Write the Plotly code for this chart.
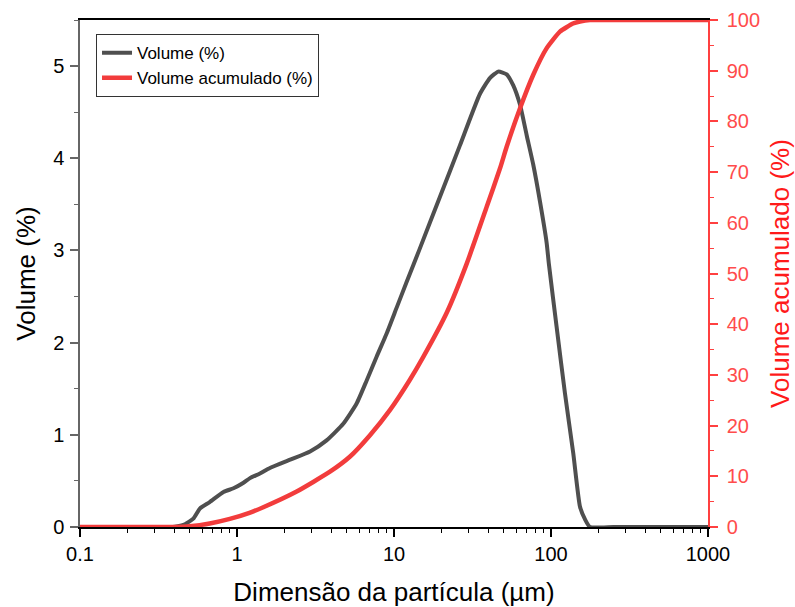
import plotly.graph_objects as go

# Volume (%) distribution
vol_x = [0.1, 0.39, 0.42, 0.466, 0.527, 0.58, 0.67, 0.82, 0.95, 1.1, 1.21, 1.4, 1.62,
         2.18, 2.92, 3.72, 4.75, 5.78, 6.70, 7.76, 8.98, 10.4, 12.05, 14.6, 19.6,
         26.3, 35.3, 40.8, 46.1, 52.2, 57.5, 63.5, 70.0, 77.1, 85.1, 93.7, 97.0,
         108.6, 122.7, 138.6, 153.0, 165.0, 177.0, 250.0, 400.0, 1000.0]
vol_y = [0, 0, 0.01, 0.03, 0.09, 0.20, 0.27, 0.38, 0.42, 0.48, 0.53, 0.58, 0.64,
         0.73, 0.82, 0.94, 1.12, 1.34, 1.59, 1.85, 2.10, 2.38, 2.66, 3.02, 3.58,
         4.14, 4.70, 4.87, 4.94, 4.91, 4.79, 4.58, 4.25, 3.93, 3.53, 3.09, 2.85,
         2.17, 1.45, 0.80, 0.22, 0.08, 0, 0, 0, 0]

# Cumulative volume (%)
cum_x = [0.1, 0.4, 0.5, 0.67, 0.9, 1.2, 1.47, 2.40, 3.91, 5.25, 7.03, 9.44, 12.6, 15.4,
         21.7, 29.1, 39.0, 47.3, 52.2, 63.5, 77.1, 93.7, 114.0, 138.0, 153.0,
         177.0, 250.0, 400.0, 1000.0]
cum_y = [0, 0, 0.15, 0.7, 1.6, 2.8, 3.9, 7.0, 10.9, 13.9, 18.1, 23.1, 29.0, 33.6,
         42.3, 52.0, 63.2, 70.7, 75.0, 82.6, 89.2, 94.4, 97.7, 99.3, 99.7,
         100, 100, 100, 100]

x_tickvals = [0.1, 1, 10, 100, 1000]
x_ticktext = ["0.1", "1", "10", "100", "1000"]
x_minor = [m * 10 ** e for e in range(-1, 3) for m in range(2, 10)]

FONT = "Arial, 'Liberation Sans', sans-serif"
GRAY = "#4f4f4f"
RED = "#f23c3c"

fig = go.Figure()
fig.add_trace(go.Scatter(x=vol_x, y=vol_y, mode="lines", name="Volume (%)",
                         line=dict(color=GRAY, width=4, shape="spline", smoothing=0.5)))
fig.add_trace(go.Scatter(x=cum_x, y=cum_y, mode="lines", name="Volume acumulado (%)",
                         yaxis="y2",
                         line=dict(color=RED, width=4.5, shape="spline", smoothing=0.5)))

fig.update_layout(
    width=795, height=607,
    margin=dict(l=80, r=87, t=20, b=80),
    paper_bgcolor="white", plot_bgcolor="white",
    font=dict(family=FONT, size=20, color="black"),
    showlegend=True,
    legend=dict(x=0.0255, y=0.972, xanchor="left", yanchor="top",
                bgcolor="white", bordercolor="#333333", borderwidth=1,
                font=dict(size=17, color="black"), tracegroupgap=0,
                itemwidth=30),
    xaxis=dict(
        type="log", range=[-1, 3], automargin=False,
        tickvals=x_tickvals, ticktext=x_ticktext,
        ticks="outside", ticklen=8, tickwidth=1.5, tickcolor="black",
        showline=True, linecolor="black", linewidth=1.5, mirror=True,
        showgrid=False, zeroline=False,
        tickfont=dict(size=20, color="black"),
        minor=dict(tickvals=x_minor, ticks="outside", ticklen=4, tickcolor="black",
                   tickwidth=1, showgrid=False),
        title=dict(text="Dimensão da partícula (µm)", font=dict(size=26, color="black"),
                   standoff=21),
    ),
    yaxis=dict(
        range=[0, 5.5], dtick=1, tick0=0, automargin=False,
        ticks="outside", ticklen=8, tickwidth=1.5, tickcolor="#666666",
        showline=True, linecolor="#666666", linewidth=1.5,
        showgrid=False, zeroline=False, ticklabelstandoff=2,
        tickfont=dict(size=20, color="black"),
        minor=dict(dtick=0.5, ticks="outside", ticklen=4, tickcolor="#666666",
                   tickwidth=1, showgrid=False),
        title=dict(text="Volume (%)", font=dict(size=26, color="black"), standoff=10),
    ),
    yaxis2=dict(
        range=[0, 100], dtick=10, tick0=0, overlaying="y", side="right",
        automargin=False,
        ticks="outside", ticklen=8, tickwidth=1.5, tickcolor="#ff4040",
        showline=True, linecolor="#ff4040", linewidth=1.5,
        showgrid=False, zeroline=False, ticklabelstandoff=5,
        tickfont=dict(size=20, color="#ff4c4c"),
        minor=dict(dtick=5, ticks="outside", ticklen=4, tickcolor="#ff4040",
                   tickwidth=1, showgrid=False),
        title=dict(text="Volume acumulado (%)", font=dict(size=26, color="#ff1a1a"),
                   standoff=14),
    ),
)

fig.write_html("out.html")
